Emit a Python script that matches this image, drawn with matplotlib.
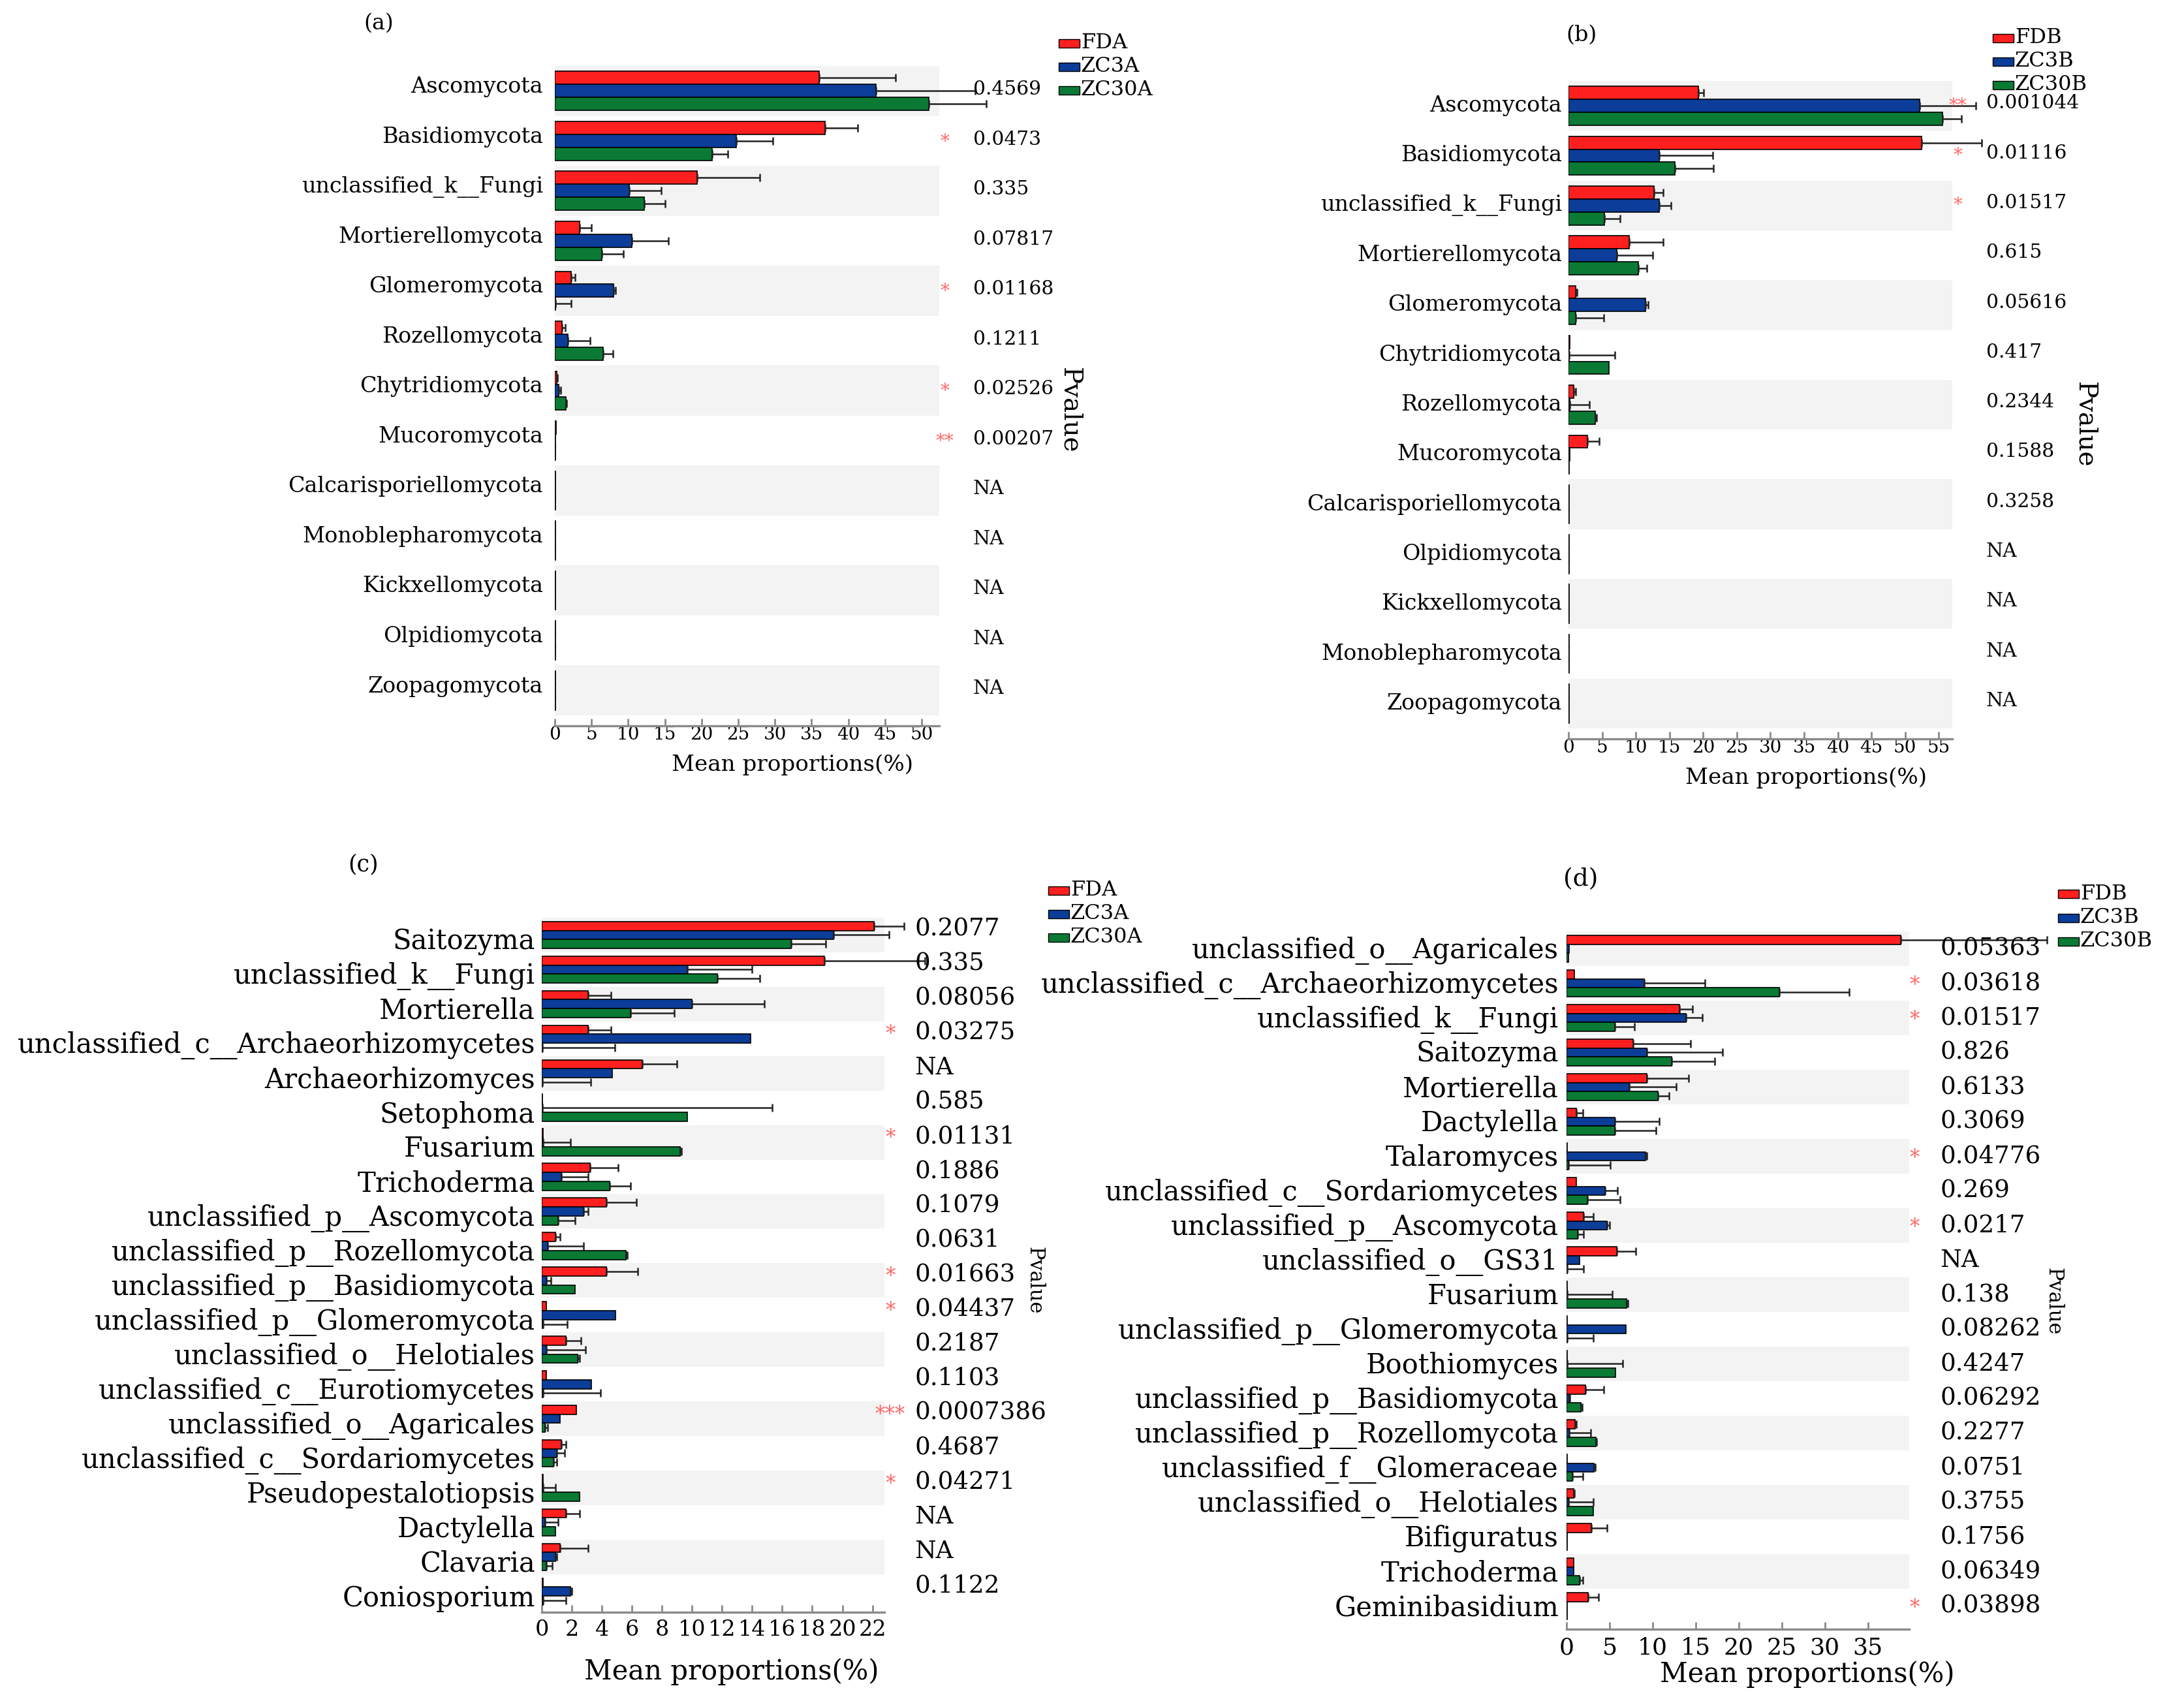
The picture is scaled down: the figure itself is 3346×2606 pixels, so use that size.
import matplotlib
matplotlib.use("Agg")
import matplotlib.pyplot as plt
import matplotlib.transforms as mtransforms
from matplotlib.patches import Rectangle
import numpy as np

plt.rcParams['font.family'] = ['DejaVu Serif']

W, H = 3346, 2606
DPI = 200

RED = '#ff1f1f'
BLUE = '#0b3d99'
GREEN = '#0a7a35'
BAND = '#f3f3f3'
STAR = '#ff6a6a'

# ---------------- Panel (a) ----------------
a_taxa = ['Ascomycota', 'Basidiomycota', 'unclassified_k__Fungi', 'Mortierellomycota',
          'Glomeromycota', 'Rozellomycota', 'Chytridiomycota', 'Mucoromycota',
          'Calcarisporiellomycota', 'Monoblepharomycota', 'Kickxellomycota',
          'Olpidiomycota', 'Zoopagomycota']
a_groups = ['FDA', 'ZC3A', 'ZC30A']
a_fda = [36.0, 36.8, 19.4, 3.4, 2.2, 1.0, 0.3, 0.2, 0.05, 0.05, 0.05, 0.05, 0.05]
a_fda_err = [10.4, 4.5, 8.5, 1.6, 0.6, 0.4, 0.1, 0, 0, 0, 0, 0, 0]
a_zc3a = [43.8, 24.7, 10.1, 10.5, 8.0, 1.8, 0.5, 0.1, 0.05, 0.05, 0.05, 0.05, 0.05]
a_zc3a_err = [13.5, 5.0, 4.4, 5.0, 0.3, 3.0, 0.3, 0, 0, 0, 0, 0, 0]
a_zc30a = [51.0, 21.4, 12.2, 6.4, 0.1, 6.6, 1.5, 0.1, 0.05, 0.05, 0.05, 0.05, 0.05]
a_zc30a_err = [7.8, 2.2, 2.8, 2.9, 2.1, 1.3, 0.1, 0, 0, 0, 0, 0, 0]
a_pvals = ['0.4569', '0.0473', '0.335', '0.07817', '0.01168', '0.1211', '0.02526',
           '0.00207', 'NA', 'NA', 'NA', 'NA', 'NA']
a_stars = ['', '*', '', '', '*', '', '*', '**', '', '', '', '', '']
a_xticks = [0, 5, 10, 15, 20, 25, 30, 35, 40, 45, 50]

# ---------------- Panel (b) ----------------
b_taxa = ['Ascomycota', 'Basidiomycota', 'unclassified_k__Fungi', 'Mortierellomycota',
          'Glomeromycota', 'Chytridiomycota', 'Rozellomycota', 'Mucoromycota',
          'Calcarisporiellomycota', 'Olpidiomycota', 'Kickxellomycota',
          'Monoblepharomycota', 'Zoopagomycota']
b_groups = ['FDB', 'ZC3B', 'ZC30B']
b_fdb = [19.3, 52.4, 12.7, 9.0, 1.1, 0.2, 0.8, 2.8, 0.1, 0.05, 0.05, 0.05, 0.05]
b_fdb_err = [0.8, 9.0, 1.4, 5.1, 0.2, 0, 0.3, 1.8, 0, 0, 0, 0, 0]
b_zc3b = [52.2, 13.5, 13.5, 7.2, 11.4, 0.1, 0.2, 0.2, 0.05, 0.05, 0.05, 0.05, 0.05]
b_zc3b_err = [8.3, 7.9, 1.7, 5.3, 0.4, 6.8, 2.9, 0, 0, 0, 0, 0, 0]
b_zc30b = [55.5, 15.8, 5.3, 10.4, 1.1, 6.0, 4.0, 0.1, 0.05, 0.05, 0.05, 0.05, 0.05]
b_zc30b_err = [2.9, 5.7, 2.4, 1.2, 4.1, 0, 0.2, 0, 0, 0, 0, 0, 0]
b_pvals = ['0.001044', '0.01116', '0.01517', '0.615', '0.05616', '0.417', '0.2344',
           '0.1588', '0.3258', 'NA', 'NA', 'NA', 'NA']
b_stars = ['**', '*', '*', '', '', '', '', '', '', '', '', '', '']
b_xticks = [0, 5, 10, 15, 20, 25, 30, 35, 40, 45, 50, 55]

# ---------------- Panel (c) ----------------
c_taxa = ['Saitozyma', 'unclassified_k__Fungi', 'Mortierella',
          'unclassified_c__Archaeorhizomycetes', 'Archaeorhizomyces', 'Setophoma',
          'Fusarium', 'Trichoderma', 'unclassified_p__Ascomycota',
          'unclassified_p__Rozellomycota', 'unclassified_p__Basidiomycota',
          'unclassified_p__Glomeromycota', 'unclassified_o__Helotiales',
          'unclassified_c__Eurotiomycetes', 'unclassified_o__Agaricales',
          'unclassified_c__Sordariomycetes', 'Pseudopestalotiopsis', 'Dactylella',
          'Clavaria', 'Coniosporium']
c_groups = ['FDA', 'ZC3A', 'ZC30A']
c_fda = [22.1, 18.8, 3.1, 3.1, 6.7, 0.05, 0.1, 3.2, 4.3, 0.9, 4.3, 0.3, 1.6, 0.3,
         2.3, 1.3, 0.1, 1.6, 1.2, 0.1]
c_fda_err = [2.0, 6.7, 1.5, 1.5, 2.3, 0, 0, 1.9, 2.0, 0.3, 2.1, 0, 1.0, 0, 0, 0.3,
             0, 0.9, 1.9, 0]
c_zc3a = [19.4, 9.7, 10.0, 13.9, 4.7, 0.05, 0.1, 1.3, 2.8, 0.4, 0.3, 4.9, 0.3, 3.3,
          1.2, 1.0, 0.1, 0.2, 0.9, 1.9]
c_zc3a_err = [3.7, 4.3, 4.8, 0, 0, 15.3, 1.8, 1.8, 0.3, 2.4, 0.3, 0, 2.6, 0, 0, 0.5,
              0.8, 0.9, 0.1, 0.1]
c_zc30a = [16.6, 11.7, 5.9, 0.05, 0.05, 9.7, 9.2, 4.5, 1.1, 5.6, 2.2, 0.1, 2.4, 0.1,
           0.2, 0.8, 2.5, 0.9, 0.3, 0.1]
c_zc30a_err = [2.3, 2.8, 2.9, 4.8, 3.2, 0, 0.1, 1.4, 1.1, 0.1, 0, 1.6, 0.1, 3.8, 0.2,
               0.2, 0, 0, 0.4, 1.5]
c_pvals = ['0.2077', '0.335', '0.08056', '0.03275', 'NA', '0.585', '0.01131', '0.1886',
           '0.1079', '0.0631', '0.01663', '0.04437', '0.2187', '0.1103', '0.0007386',
           '0.4687', '0.04271', 'NA', 'NA', '0.1122']
c_stars = ['', '', '', '*', '', '', '*', '', '', '', '*', '*', '', '', '***', '', '*',
           '', '', '']
c_xticks = [0, 2, 4, 6, 8, 10, 12, 14, 16, 18, 20, 22]

# ---------------- Panel (d) ----------------
d_taxa = ['unclassified_o__Agaricales', 'unclassified_c__Archaeorhizomycetes',
          'unclassified_k__Fungi', 'Saitozyma', 'Mortierella', 'Dactylella',
          'Talaromyces', 'unclassified_c__Sordariomycetes', 'unclassified_p__Ascomycota',
          'unclassified_o__GS31', 'Fusarium', 'unclassified_p__Glomeromycota',
          'Boothiomyces', 'unclassified_p__Basidiomycota', 'unclassified_p__Rozellomycota',
          'unclassified_f__Glomeraceae', 'unclassified_o__Helotiales', 'Bifiguratus',
          'Trichoderma', 'Geminibasidium']
d_groups = ['FDB', 'ZC3B', 'ZC30B']
d_fdb = [38.8, 0.9, 13.1, 7.7, 9.3, 1.1, 0.1, 1.1, 2.0, 5.8, 0.1, 0.1, 0.1, 2.2, 1.0,
         0.1, 0.8, 2.9, 0.8, 2.5]
d_fdb_err = [17.0, 0, 1.5, 6.7, 4.9, 0.8, 0, 0, 1.1, 2.2, 0, 0, 0, 2.1, 0.1, 0, 0.1,
             1.8, 0, 1.2]
d_zc3b = [0.3, 9.0, 13.9, 9.3, 7.3, 5.6, 9.2, 4.5, 4.7, 1.5, 0.1, 6.9, 0.1, 0.3, 0.3,
          3.2, 0.2, 0.1, 0.8, 0.1]
d_zc3b_err = [0, 7.1, 1.9, 8.8, 5.4, 5.2, 0.1, 1.4, 0.3, 0, 5.2, 0, 6.4, 0.1, 2.5, 0.1,
              2.9, 0, 0, 0]
d_zc30b = [0.2, 24.7, 5.6, 12.2, 10.6, 5.6, 0.2, 2.4, 1.3, 0.1, 7.0, 0.1, 5.7, 1.7,
           3.4, 0.7, 3.1, 0.1, 1.5, 0.1]
d_zc30b_err = [0, 8.1, 2.3, 5.0, 1.3, 4.8, 4.9, 3.8, 0.7, 1.9, 0.1, 3.0, 0, 0.1, 0.1,
               1.2, 0, 0, 0.4, 0]
d_pvals = ['0.05363', '0.03618', '0.01517', '0.826', '0.6133', '0.3069', '0.04776',
           '0.269', '0.0217', 'NA', '0.138', '0.08262', '0.4247', '0.06292', '0.2277',
           '0.0751', '0.3755', '0.1756', '0.06349', '0.03898']
d_stars = ['', '*', '*', '', '', '', '*', '', '*', '', '', '', '', '', '', '', '', '',
           '', '*']
d_xticks = [0, 5, 10, 15, 20, 25, 30, 35]

fig = plt.figure(figsize=(W / DPI, H / DPI), dpi=DPI)


def px_axes(l, r, t, b):
    return fig.add_axes([l / W, 1 - b / H, (r - l) / W, (b - t) / H])


def panel(ax, taxa, series, errs, pvals, stars, xmax, xticks, ylim_b, st):
    n = len(taxa)
    y = np.arange(n)
    h = 0.26
    colors = [RED, BLUE, GREEN]
    for i in range(0, n, 2):
        ax.axhspan(i - 0.5, i + 0.5, color=BAND, lw=0, zorder=0)
    for k, (vals, err, col) in enumerate(zip(series, errs, colors)):
        vals = np.asarray(vals, float)
        err = np.asarray(err, float)
        yy = y + (k - 1) * h
        ax.barh(yy, vals, height=h, color=col, edgecolor='black', linewidth=0.6, zorder=2)
        m = err > 0
        if m.any():
            ax.errorbar(vals[m], yy[m], xerr=[np.zeros(m.sum()), err[m]], fmt='none',
                        ecolor='#222222', elinewidth=0.9, capsize=2.2, capthick=0.9,
                        zorder=3, clip_on=False)
    ax.set_xlim(0, xmax)
    ax.set_ylim(ylim_b, -0.5)
    ax.set_yticks([])
    for s in ['top', 'right', 'left']:
        ax.spines[s].set_visible(False)
    ax.spines['bottom'].set_color('#8a8a8a')
    ax.spines['bottom'].set_linewidth(1.2)
    ax.set_xticks(xticks)
    ax.tick_params(axis='x', direction='in', length=4, width=1, color='#8a8a8a',
                   pad=st['tickpad'], labelsize=st['fs_tick'])
    trans = mtransforms.blended_transform_factory(ax.transAxes, ax.transData)
    for i, name in enumerate(taxa):
        ax.annotate(name, xy=(0, i + st['lab_dy']), xycoords=trans,
                    xytext=(-st['lab_pad'], 0), textcoords='offset points',
                    ha='right', va='center', fontsize=st['fs_lab'])
        ax.text(st['px'], i + st['p_dy'], pvals[i], transform=trans, ha='left',
                va='center', fontsize=st['fs_p'])
        if stars[i]:
            ax.text(st['sx'], i + st['p_dy'] + 0.05, stars[i], transform=trans,
                    ha='center', va='center', fontsize=st['fs_star'], color=STAR)
    ax.text(st['pvx'], st['pvy'], 'Pvalue', transform=trans, rotation=270,
            ha='center', va='center', fontsize=st['fs_pv'])
    ax.text(st['xlx'], st['xly'], 'Mean proportions(%)', transform=ax.transAxes,
            ha='center', va='center', fontsize=st['fs_xlab'])


def legend(x0, ys, labels, fs, bw=32, bh=13):
    for yc, lab, col in zip(ys, labels, [RED, BLUE, GREEN]):
        fig.patches.append(Rectangle((x0 / W, 1 - (yc + bh / 2) / H), bw / W, bh / H,
                                     transform=fig.transFigure, facecolor=col,
                                     edgecolor='black', linewidth=0.5))
        fig.text((x0 + bw + 2) / W, 1 - yc / H, lab, ha='left', va='center',
                 fontsize=fs)


st_ab = dict(tickpad=0, fs_tick=10, fs_lab=12, lab_pad=6.5, lab_dy=-0.08, fs_p=10.7,
             p_dy=-0.03, px=1.088, sx=1.015, fs_star=10, pvx=1.34, pvy=6.4,
             fs_pv=14, xlx=0.618, xly=-0.059, fs_xlab=12.3)

# (a)
ax_a = px_axes(850, 1439, 101, 1112)
panel(ax_a, a_taxa, [a_fda, a_zc3a, a_zc30a], [a_fda_err, a_zc3a_err, a_zc30a_err],
      a_pvals, a_stars, 52.4, a_xticks, 12.71, st_ab)
legend(1622, [66, 102, 138], a_groups, 11.5)
fig.text(580 / W, 1 - 36 / H, '(a)', ha='center', va='center', fontsize=12)

# (b)
st_b = dict(st_ab, lab_pad=3.6, lab_dy=0.0, p_dy=-0.05, pvx=1.345, xlx=0.619,
            xly=-0.0595)
ax_b = px_axes(2403, 2991, 124, 1132)
panel(ax_b, b_taxa, [b_fdb, b_zc3b, b_zc30b], [b_fdb_err, b_zc3b_err, b_zc30b_err],
      b_pvals, b_stars, 57.0, b_xticks, 12.71, st_b)
legend(3053, [58, 94, 130], b_groups, 11.5)
fig.text(2423 / W, 1 - 54 / H, '(b)', ha='center', va='center', fontsize=12)

# (c)
st_c = dict(tickpad=4, fs_tick=12, fs_lab=15, lab_pad=3.6, lab_dy=0.2, fs_p=13.4,
            p_dy=-0.17, px=1.088, sx=1.017, fs_star=11, pvx=1.438, pvy=10.0,
            fs_pv=11, xlx=0.554, xly=-0.0855, fs_xlab=15)
ax_c = px_axes(830, 1355, 1406, 2470)
panel(ax_c, c_taxa, [c_fda, c_zc3a, c_zc30a], [c_fda_err, c_zc3a_err, c_zc30a_err],
      c_pvals, c_stars, 22.8, c_xticks, 19.6, st_c)
legend(1606, [1364, 1400, 1436], c_groups, 11.5)
fig.text(557 / W, 1 - 1324 / H, '(c)', ha='center', va='center', fontsize=12.5)

# (d)
st_d = dict(st_c, lab_pad=4.3, lab_dy=0.05, p_dy=0.0, px=1.09, sx=1.015, pvx=1.421,
            pvy=10.2, xlx=0.703, xly=-0.0645, fs_tick=13)
ax_d = px_axes(2400, 2925, 1427, 2496)
panel(ax_d, d_taxa, [d_fdb, d_zc3b, d_zc30b], [d_fdb_err, d_zc3b_err, d_zc30b_err],
      d_pvals, d_stars, 39.8, d_xticks, 19.67, st_d)
legend(3153, [1370, 1406, 1442], d_groups, 11.5)
fig.text(2422 / W, 1 - 1347 / H, '(d)', ha='center', va='center', fontsize=13.5)

fig.savefig('out.png', dpi=DPI, facecolor='white')
